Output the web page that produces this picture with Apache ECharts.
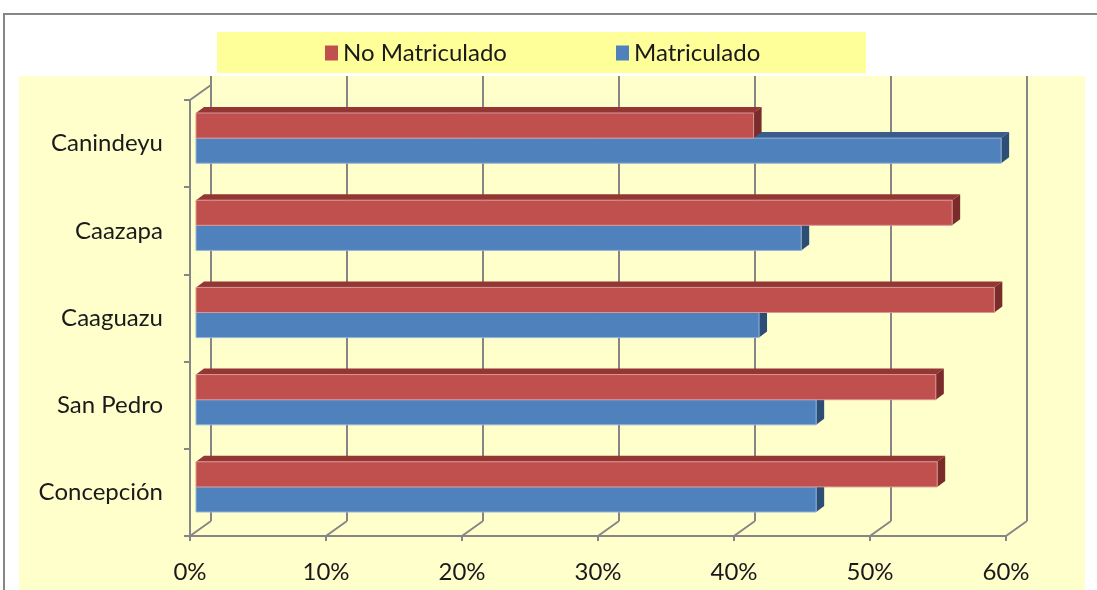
<!DOCTYPE html>
<html>
<head>
<meta charset="utf-8">
<script src="https://cdn.jsdelivr.net/npm/echarts@6/dist/echarts.min.js"></script>
<style>
  html, body { margin: 0; padding: 0; background: #fff; }
  #chart { width: 1097px; height: 590px; }
</style>
</head>
<body>
<div id="chart"></div>
<script>
// categories listed bottom -> top
const categories = ['Concepción', 'San Pedro', 'Caaguazu', 'Caazapa', 'Canindeyu']
const noMatriculado = [54.5, 54.4, 58.7, 55.6, 41.0]
const matriculado = [45.6, 45.6, 41.4, 44.5, 59.2]
const xTicks = [0, 10, 20, 30, 40, 50, 60]

const FONT = 'Lato'
// depth offsets of the fake 3d walls
const wallDx = 21
const wallDy = -15

const palette = {
  red: { face: '#C0504D', top: '#943634', side: '#7A2C2A', edge: '#D99694' },
  blue: { face: '#4F81BD', top: '#385D8A', side: '#2C4D75', edge: '#95B3D7' }
}

function barRender (colors, upper) {
  return function (params, api) {
    const idx = api.value(0)
    const end = api.coord([api.value(1), idx])
    const start = api.coord([0, idx])
    const band = api.size([0, 1])[1]
    const h = band * 0.288
    const fx = 6
    const fy = -5.5
    const dx = 8
    const dy = -6
    const x0 = start[0] + fx
    const x1 = end[0] + fx
    const mid = end[1] + fy
    const y0 = upper ? mid - h : mid
    const y1 = upper ? mid : mid + h
    return {
      type: 'group',
      children: [
        {
          type: 'polygon',
          shape: { points: [[x0, y0], [x0 + dx, y0 + dy], [x1 + dx, y0 + dy], [x1, y0]] },
          style: { fill: colors.top }
        },
        {
          type: 'polygon',
          shape: { points: [[x1, y0], [x1 + dx, y0 + dy], [x1 + dx, y1 + dy], [x1, y1]] },
          style: { fill: colors.side }
        },
        {
          type: 'rect',
          shape: { x: x0, y: y0, width: x1 - x0, height: y1 - y0 },
          style: { fill: colors.face, stroke: colors.edge, lineWidth: 1 }
        }
      ]
    }
  }
}

const chart = echarts.init(document.getElementById('chart'))
const option = {
  animation: false,
  backgroundColor: '#fff',
  graphic: [
    {
      type: 'rect',
      z: -10,
      shape: { x: 4, y: 14, width: 1100, height: 600 },
      style: { fill: '#fff', stroke: '#868686', lineWidth: 2 }
    },
    {
      type: 'rect',
      z: -9,
      shape: { x: 19, y: 76, width: 1066, height: 520 },
      style: { fill: '#FFFFCC' }
    },
    {
      type: 'rect',
      z: -9,
      shape: { x: 217, y: 32, width: 649, height: 41 },
      style: { fill: '#FFFF99' }
    }
  ],
  legend: {
    data: ['No Matriculado', 'Matriculado'],
    left: 320,
    top: 36,
    icon: 'rect',
    itemWidth: 13,
    itemHeight: 15,
    itemGap: 109,
    textStyle: { fontFamily: FONT, fontSize: 24, color: '#1a1a1a' }
  },
  grid: [
    { left: 190, right: 91, top: 100, bottom: 54 },
    { left: 211, right: 70, top: 76, bottom: 69 }
  ],
  xAxis: [
    {
      type: 'value',
      gridIndex: 0,
      min: 0,
      max: 60,
      interval: 10,
      axisLine: { show: true, lineStyle: { color: '#868686', width: 2 } },
      axisTick: { show: true, length: 5, lineStyle: { color: '#868686', width: 2 } },
      splitLine: { show: false },
      axisLabel: {
        formatter: '{value}%',
        margin: 24,
        fontFamily: FONT,
        fontSize: 24,
        color: '#1a1a1a'
      }
    },
    {
      type: 'value',
      gridIndex: 1,
      min: 0,
      max: 60,
      interval: 10,
      axisLine: { show: false },
      axisTick: { show: false },
      axisLabel: { show: false },
      splitLine: { show: true, lineStyle: { color: '#868686', width: 2 } }
    }
  ],
  yAxis: [
    {
      type: 'category',
      gridIndex: 0,
      data: categories,
      axisLine: { show: true, lineStyle: { color: '#868686', width: 2 } },
      axisTick: { show: true, length: 6, lineStyle: { color: '#868686', width: 2 } },
      axisLabel: { margin: 27, fontFamily: FONT, fontSize: 24, color: '#1a1a1a' }
    },
    {
      type: 'category',
      gridIndex: 1,
      data: categories,
      show: false
    }
  ],
  series: [
    {
      // floor diagonals + left wall top edge
      type: 'custom',
      xAxisIndex: 0,
      yAxisIndex: 0,
      silent: true,
      data: xTicks.map(v => [v]),
      encode: { x: 0 },
      renderItem (params, api) {
        const cs = params.coordSys
        const x = api.coord([api.value(0), 0])[0]
        const bottom = cs.y + cs.height
        const lines = [{
          type: 'line',
          shape: { x1: x, y1: bottom, x2: x + wallDx, y2: bottom + wallDy },
          style: { stroke: '#868686', lineWidth: 2 }
        }]
        if (params.dataIndex === 0) {
          lines.push({
            type: 'line',
            shape: { x1: x, y1: cs.y, x2: x + wallDx, y2: cs.y + wallDy },
            style: { stroke: '#868686', lineWidth: 2 }
          })
        }
        return { type: 'group', children: lines }
      }
    },
    {
      name: 'Matriculado',
      type: 'custom',
      xAxisIndex: 0,
      yAxisIndex: 0,
      itemStyle: { color: palette.blue.face },
      data: matriculado.map((v, i) => [i, v]),
      encode: { y: 0, x: 1 },
      renderItem: barRender(palette.blue, false)
    },
    {
      name: 'No Matriculado',
      type: 'custom',
      xAxisIndex: 0,
      yAxisIndex: 0,
      itemStyle: { color: palette.red.face },
      data: noMatriculado.map((v, i) => [i, v]),
      encode: { y: 0, x: 1 },
      renderItem: barRender(palette.red, true)
    }
  ]
}
chart.setOption(option)
</script>
</body>
</html>
